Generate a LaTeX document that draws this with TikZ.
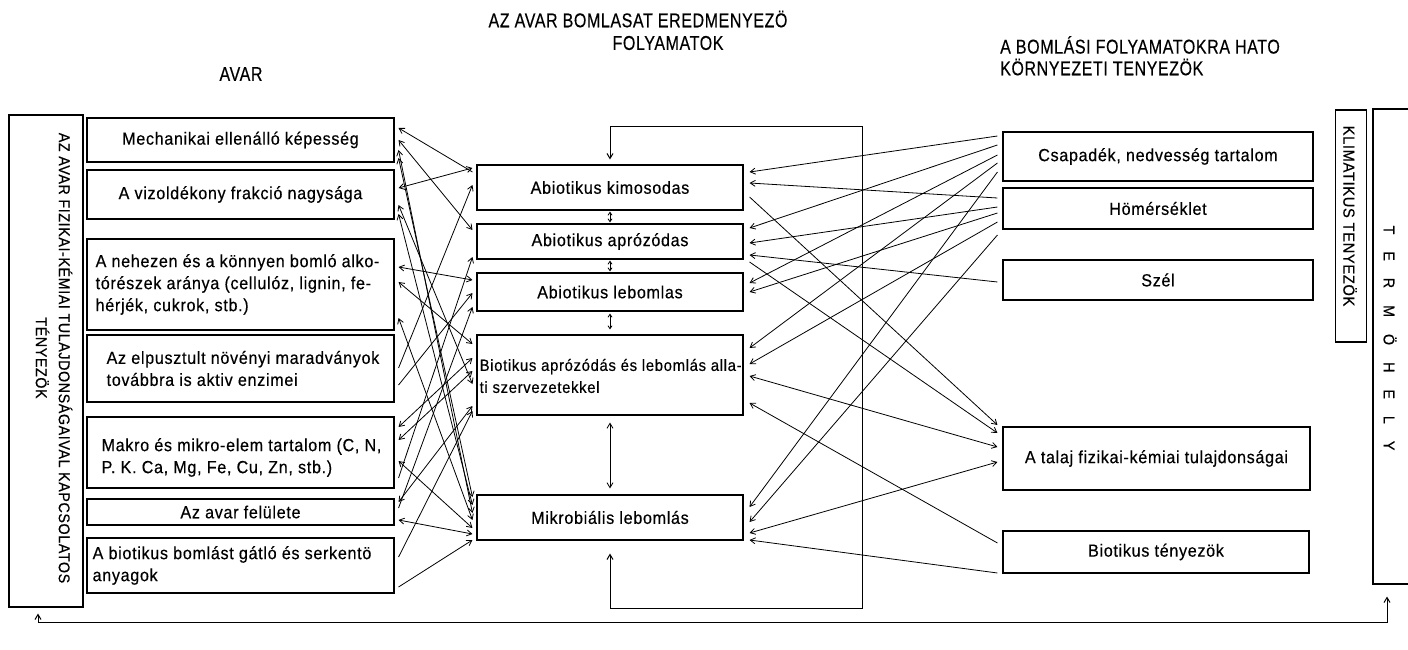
\documentclass[tikz,border=0pt]{standalone}
\usepackage{fontspec}
\setmainfont{Liberation Sans}[FakeStretch=0.92,LetterSpace=4,FakeBold=0.4]
\newfontfamily\hdrfont{Liberation Sans}[FakeStretch=0.8,LetterSpace=3,FakeBold=0.3]
\usetikzlibrary{arrows.meta,calc}
\newcommand\mybox[6]{\node[box,minimum width=#4pt,minimum height=#5pt] (#1) at (#2,#3) {#6};}
\newcommand\lk[5][]{\draw[lnk,#1] ([xshift=4pt,yshift=#3pt]#2.east) -- ([xshift=-4pt,yshift=#5pt]#4.west);}
\newcommand\rk[5][]{\draw[lnk,#1] ([xshift=-5pt,yshift=#3pt]#2.west) -- ([xshift=6pt,yshift=#5pt]#4.east);}
\begin{document}
\begin{tikzpicture}[x=1pt,y=-1pt,
  box/.style={draw,line width=1.1pt,inner sep=0pt,font=\fontsize{17.5}{22}\selectfont,align=center},
  txt/.style={inner sep=0pt,font=\fontsize{17.5}{22}\selectfont,align=left},
  hdr/.style={inner sep=0pt,font=\hdrfont\fontsize{20}{25}\selectfont},
  vtxt/.style={inner sep=0pt,rotate=-90,font=\fontsize{15.5}{23}\selectfont,align=center},
  lnk/.style={line width=0.8pt},
  frame/.style={line width=1pt},
  small/.style={lnk,<->,>={Straight Barb[length=3pt,width=4pt]}},
  >={Straight Barb[length=5pt,width=6pt]}]
\useasboundingbox (0,0) rectangle (1408,650);

% headers
\node[hdr] (h1) at (638,19) {AZ AVAR BOMLASAT EREDMENYEZÖ};
\node[hdr] (h2) at (668,43) {FOLYAMATOK};
\node[hdr] (h3) at (241,74) {AVAR};
\node[hdr,anchor=west] (h4) at (1000,45) {A BOMLÁSI FOLYAMATOKRA HATO};
\node[hdr,anchor=west] (h5) at (1000,67) {KÖRNYEZETI TENYEZÖK};

% left frame
\mybox{L0}{46}{361}{74}{492}{}
\node[vtxt] (Lt) at (54,358) {AZ AVAR FIZIKAI-KÉMIAI TULAJDONSÁGAIVAL KAPCSOLATOS\\TÉNYEZÖK};

% left boxes
\mybox{b1}{240.5}{140}{307}{44}{Mechanikai ellenálló képesség}
\mybox{b2}{240.5}{194.5}{307}{49}{A vizoldékony frakció nagysága}
\mybox{b3}{240.5}{284.5}{307}{91}{}
\node[txt,anchor=west] (t3) at ($(b3.west)+(9,0)$) {A nehezen és a könnyen bomló alko-\\tórészek aránya (cellulóz, lignin, fe-\\hérjék, cukrok, stb.)};
\mybox{b4}{240.5}{368.5}{307}{67}{}
\node[txt,anchor=west] (t4) at ($(b4.west)+(20,0)$) {Az elpusztult növényi maradványok\\továbbra is aktiv enzimei};
\mybox{b5}{240.5}{452.5}{307}{71}{}
\node[txt,anchor=west] (t5) at ($(b5.west)+(15,5)$) {Makro és mikro-elem tartalom (C, N,\\P. K. Ca, Mg, Fe, Cu, Zn, stb.)};
\mybox{b6}{240.5}{512}{307}{26}{Az avar felülete}
\mybox{b7}{240.5}{565.5}{307}{55}{}
\node[txt,anchor=west] (t7) at ($(b7.west)+(6,0)$) {A biotikus bomlást gátló és serkentö\\anyagok};

% middle boxes
\mybox{m1}{610}{187.5}{266}{45}{Abiotikus kimosodas}
\mybox{m2}{610}{241.5}{266}{35}{Abiotikus aprózódas}
\mybox{m3}{610}{292}{266}{38}{Abiotikus lebomlas}
\mybox{m4}{610}{375}{266}{80}{}
\node[txt,anchor=west,font=\fontsize{16.2}{22}\selectfont] (t4m) at ($(m4.west)+(3,1)$) {Biotikus aprózódás és lebomlás alla-\\ti szervezetekkel};
\mybox{m5}{610}{517.5}{266}{45}{Mikrobiális lebomlás}

% right boxes
\mybox{r1}{1158}{156.5}{310}{49}{Csapadék, nedvesség tartalom}
\mybox{r2}{1158}{208.5}{310}{41}{Hömérséklet}
\mybox{r3}{1158}{280}{310}{40}{Szél}
\mybox{r4}{1156.5}{458.5}{307}{63}{A talaj fizikai-kémiai tulajdonságai}
\mybox{r5}{1156}{552}{306}{42}{Biotikus tényezök}
\mybox{kb}{1351}{226}{31}{232}{}
\node[vtxt,font=\fontsize{16}{20}\selectfont] (kt) at (1350,216) {KLIMATIKUS TENYEZÖK};
\mybox{tb}{1393}{346.5}{40}{475}{}
\node[vtxt] (tt) at (1390,338) {T\hspace{17pt}E\hspace{17pt}R\hspace{17pt}M\hspace{17pt}Ö\hspace{17pt}H\hspace{17pt}E\hspace{17pt}L\hspace{17pt}Y};

% small arrows between process boxes
\draw[small,shorten <=1pt,shorten >=1pt] (m1.south) -- (m2.north);
\draw[small,shorten <=1pt,shorten >=1pt] (m2.south) -- (m3.north);
\draw[small,shorten <=2pt,shorten >=5pt] (m3.south) -- (m4.north);
\draw[lnk,<->,shorten <=7pt,shorten >=6pt] (m4.south) -- (m5.north);

% feedback loop of processes
\coordinate (lpA) at (862,127);
\coordinate (lpB) at (862,608);
\draw[frame,<->] ([yshift=5pt]m1.north) |- (lpA) -- (lpB) -| ([yshift=-13pt]m5.south);

% bottom feedback
\coordinate (bl) at (38,622);
\coordinate (br) at (1387,622);
\draw[frame,<->] ([xshift=-8pt,yshift=-6pt]L0.south) -- (bl) -- (br) -- ([xshift=-6pt,yshift=-12pt]tb.south);

% left links
\lk[<-]{b1}{12}{m1}{15.5}
\lk[<->]{b1}{0}{m2}{11.5}
\lk[<->]{b2}{6.5}{m1}{19.5}
\lk[<->]{b1}{-10}{m5}{4.5}
\lk[<->]{b1}{-18}{m5}{20.5}
\lk[<->]{b2}{-10.5}{m4}{-9}
\lk[<->]{b2}{-19.5}{m5}{12.5}
\lk[<->]{b3}{17.5}{m3}{12}
\lk[<->]{b3}{2.5}{m4}{31}
\lk[<->]{b3}{-33.5}{m5}{-2.5}
\lk[->]{b4}{0.5}{m1}{2.5}
\lk[->]{b4}{-16.5}{m3}{-1}
\lk[<->]{b5}{25.5}{m4}{17}
\lk[<->]{b5}{12.5}{m4}{4}
\lk[<->]{b5}{-8.5}{m5}{-10.5}
\lk[->]{b5}{-25.5}{m2}{-15.5}
\lk[<->]{b6}{10}{m4}{-31}
\lk[<->]{b6}{-8}{m5}{-16.5}
\lk[->]{b6}{4}{m3}{-15}
\lk[->]{b7}{8.5}{m4}{-36}
\lk[->]{b7}{-21.5}{m5}{-22.5}

% right links
\rk[->]{r1}{20.5}{m1}{15.5}
\rk[->]{r1}{11.5}{m2}{13.5}
\rk[->]{r1}{1.5}{m3}{9}
\rk[->]{r1}{-6.5}{m4}{27}
\rk[->]{r1}{-15.5}{m5}{10.5}
\rk[->]{r2}{10.5}{m1}{4.5}
\rk[->]{r2}{1.5}{m2}{-1.5}
\rk[->]{r2}{-4.5}{m3}{0}
\rk[->]{r2}{-13.5}{m4}{11}
\rk[->]{r2}{-26.5}{m5}{-4.5}
\rk[->]{r3}{-2}{m2}{-13.5}
\rk[<-]{r4}{33.5}{m1}{-9.5}
\rk[<-]{r4}{25.5}{m2}{-20.5}
\rk[<->]{r4}{11.5}{m4}{-1}
\rk[->]{r5}{9}{m4}{-28}
\rk[<->]{r4}{-3.5}{m5}{-15.5}
\rk[->]{r5}{-21}{m5}{-22.5}
\end{tikzpicture}
\end{document}
